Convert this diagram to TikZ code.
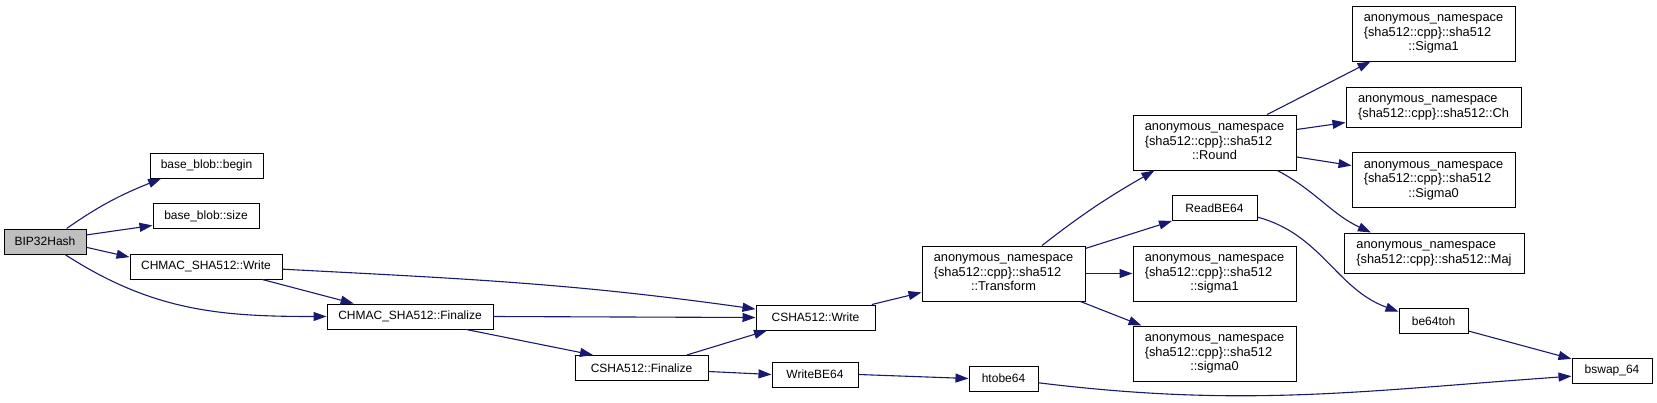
\documentclass[tikz,border=0pt]{standalone}
\usepackage{fontspec}
\setmainfont{Liberation Sans}
\usetikzlibrary{arrows.meta}
\definecolor{edgec}{HTML}{191970}
\definecolor{bipfill}{HTML}{BFBFBF}
\newcommand{\anonA}[1]{\begin{tabular}{@{}l@{}}anonymous\_namespace\\\{sha512::cpp\}::sha512\\\multicolumn{1}{@{}c@{}}{#1}\end{tabular}}
\newcommand{\anonB}[1]{\begin{tabular}{@{}l@{}}anonymous\_namespace\\\{sha512::cpp\}::sha512#1\end{tabular}}
\tikzset{
  box/.style={draw=black, line width=1pt, fill=white, inner sep=0pt, anchor=center,
    font=\fontsize{12}{14}\selectfont, minimum height=25pt},
  anon/.style={box, font=\fontsize{12.8}{14.5}\selectfont},
  edge/.style={draw=edgec, line width=1.1pt, -{Triangle[length=13pt,width=9pt]}}
}
\begin{document}
\begin{tikzpicture}[x=1pt,y=1pt]
\useasboundingbox (0,0) rectangle (1657,-402);
% nodes
\node[box, fill=bipfill, minimum width=82pt] (bip) at (45,-241.5) {BIP32Hash};
\node[box, minimum width=113pt] (begin) at (206.5,-165.5) {base\_blob::begin};
\node[box, minimum width=106pt] (size) at (206,-216) {base\_blob::size};
\node[box, minimum width=152pt] (hwrite) at (206,-266.5) {CHMAC\_SHA512::Write};
\node[box, minimum width=166pt] (hfin) at (410,-316.5) {CHMAC\_SHA512::Finalize};
\node[box, minimum width=119pt] (swrite) at (815.5,-317.5) {CSHA512::Write};
\node[box, minimum width=133pt] (sfin) at (641.5,-368) {CSHA512::Finalize};
\node[box, minimum width=86pt] (wbe) at (815,-374.5) {WriteBE64};
\node[anon, minimum width=163pt, minimum height=55pt] (trans) at (1003.5,-273.5) {\anonA{::Transform}};
\node[anon, minimum width=163pt, minimum height=55pt] (round) at (1214.5,-142.5) {\anonA{::Round}};
\node[box, minimum width=85pt] (rbe) at (1214.5,-208) {ReadBE64};
\node[anon, minimum width=163pt, minimum height=55pt] (sigl1) at (1214.5,-273.5) {\anonA{::sigma1}};
\node[anon, minimum width=163pt, minimum height=55pt] (sigl0) at (1214.5,-353.5) {\anonA{::sigma0}};
\node[box, minimum width=69pt] (htobe) at (1003.5,-378.5) {htobe64};
\node[anon, minimum width=163pt, minimum height=55pt] (sigu1) at (1433.5,-33.5) {\anonA{::Sigma1}};
\node[anon, minimum width=175pt, minimum height=40pt] (ch) at (1433.5,-107) {\anonB{::Ch}};
\node[anon, minimum width=163pt, minimum height=55pt] (sigu0) at (1433.5,-180) {\anonA{::Sigma0}};
\node[anon, minimum width=180pt, minimum height=40pt] (maj) at (1434,-253) {\anonB{::Maj}};
\node[box, minimum width=69pt] (betoh) at (1433.5,-321) {be64toh};
\node[box, minimum width=80pt] (bswap) at (1612,-370.5) {bswap\_64};
% edges
\draw[edge] (bip.31) to[out=35,in=202] (begin.196);
\draw[edge] (bip.9) -- (size.190);
\draw[edge] (bip.-8) -- (hwrite.173);
\draw[edge] (bip.-33) to[out=-33,in=180] (hfin.west);
\draw[edge] (hwrite.-2) to[out=-3,in=172] (swrite.172);
\draw[edge] (hwrite.-13) -- (hfin.167);
\draw[edge] (hfin.east) -- (swrite.west);
\draw[edge] (hfin.-13) -- (sfin.165);
\draw[edge] (sfin.16) -- (swrite.195);
\draw[edge] (sfin.-3) -- (wbe.west);
\draw[edge] (swrite.13) -- (trans.193);
\draw[edge] (trans.36) to[out=38,in=210] (round.205);
\draw[edge] (trans.17) -- (rbe.197);
\draw[edge] (trans.east) -- (sigl1.west);
\draw[edge] (trans.-20) -- (sigl0.159);
\draw[edge] (wbe.east) -- (htobe.west);
\draw[edge] (htobe.-7) to[out=-7,in=184] (bswap.188);
\draw[edge] (round.28) -- (sigu1.204);
\draw[edge] (round.9) -- (ch.190);
\draw[edge] (round.-10) -- (sigu0.170);
\draw[edge] (round.-24) to[out=-28,in=155] (maj.162);
\draw[edge] (rbe.-12) to[out=-15,in=160] (betoh.165);
\draw[edge] (betoh.-16) -- (bswap.164);
\end{tikzpicture}
\end{document}
